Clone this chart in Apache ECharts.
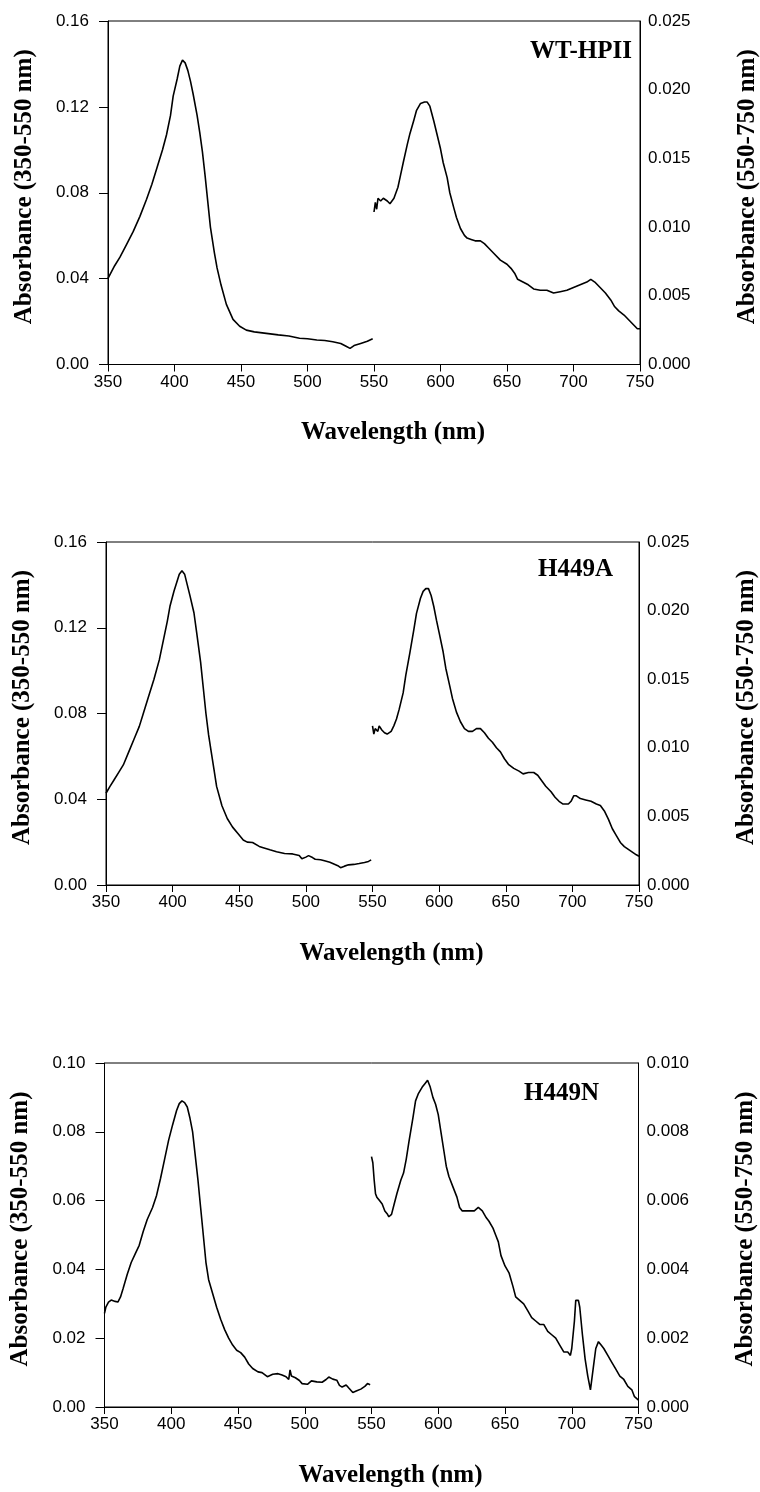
<!DOCTYPE html>
<html>
<head>
<meta charset="utf-8">
<script src="https://cdn.jsdelivr.net/npm/echarts@6/dist/echarts.min.js"></script>
<style>
html,body{margin:0;padding:0;background:#fff;overflow:hidden;}
#c{width:760px;height:1492px;}
</style>
</head>
<body>
<div id="c"></div>
<script>
// ---------- Panel 1: WT-HPII ----------
const wl1L = [350,355,359,364,369,374,379,383,387,391,394,397,399,402,404,406,408,410,412,414,417,419,421,423,425,427,430,432,435,439,444,449,454,460,469,478,486,494,500,507,513,519,525,529,532,535,540,545,549];
const ab1L = [0.0401,0.046,0.050,0.056,0.062,0.069,0.077,0.084,0.092,0.100,0.107,0.116,0.125,0.133,0.139,0.1418,0.1405,0.137,0.132,0.126,0.116,0.108,0.099,0.088,0.076,0.064,0.052,0.045,0.037,0.028,0.021,0.0178,0.0160,0.0152,0.0145,0.0138,0.0133,0.0122,0.0120,0.0114,0.0112,0.0106,0.0098,0.0085,0.0075,0.0088,0.0098,0.0108,0.0120];
const wl1R = [550,551,552,553,555,557,560,562,565,568,570,572,575,577,580,582,585,588,590,592,595,597,600,602,605,607,610,612,615,618,620,623,626,630,633,636,640,645,650,653,656,658,662,666,670,675,680,685,690,695,700,705,710,713,716,720,724,728,731,734,738,742,746,748,750];
const ab1R = [0.0111,0.0118,0.0113,0.0121,0.0119,0.0121,0.0119,0.0117,0.0121,0.0129,0.0138,0.0147,0.0160,0.0168,0.0178,0.0185,0.0190,0.0191,0.0191,0.0188,0.0177,0.0169,0.0157,0.0147,0.0136,0.0125,0.0114,0.0107,0.0099,0.0094,0.0092,0.0091,0.0090,0.0090,0.0088,0.0085,0.0081,0.0076,0.0073,0.0070,0.0066,0.0062,0.0060,0.0058,0.0055,0.0054,0.0054,0.0052,0.0053,0.0054,0.0056,0.0058,0.0060,0.0062,0.0060,0.0056,0.0052,0.0047,0.0042,0.0039,0.0036,0.0032,0.0028,0.0026,0.0026];

// ---------- Panel 2: H449A ----------
const wl2L = [350,353,356,360,363,367,371,375,378,382,386,390,393,396,398,401,403,405,407,409,411,413,416,418,421,423,425,427,429,431,433,437,441,445,449,453,456,460,465,468,473,478,484,490,495,497,500,502,505,507,511,514,518,521,524,526,529,532,536,540,544,547,549];
const ab2L = [0.0428,0.046,0.049,0.053,0.056,0.062,0.068,0.074,0.080,0.088,0.096,0.105,0.114,0.123,0.130,0.137,0.141,0.145,0.1466,0.145,0.140,0.135,0.127,0.118,0.104,0.092,0.080,0.070,0.062,0.054,0.046,0.037,0.031,0.027,0.024,0.021,0.020,0.0198,0.018,0.0174,0.0164,0.0155,0.0147,0.0145,0.0138,0.0122,0.0130,0.0137,0.0128,0.0120,0.0118,0.0113,0.0106,0.0098,0.0090,0.0081,0.0088,0.0094,0.0096,0.0100,0.0105,0.0110,0.0117];
const wl2R = [550,551,552,554,555,557,559,561,564,566,568,570,573,575,578,581,583,586,588,590,592,594,596,598,600,603,605,608,610,613,616,619,622,625,628,631,634,637,640,643,646,649,652,656,660,663,667,671,674,677,680,684,687,690,693,697,699,701,703,706,710,714,718,721,724,727,730,733,736,739,742,745,748,750];
const ab2R = [0.0116,0.0110,0.0114,0.0112,0.0116,0.0113,0.0111,0.0110,0.0112,0.0116,0.0121,0.0128,0.0140,0.0153,0.0169,0.0186,0.0198,0.0209,0.0214,0.0216,0.0216,0.0211,0.0203,0.0193,0.0184,0.0170,0.0158,0.0145,0.0136,0.0126,0.0119,0.0114,0.0112,0.0112,0.0114,0.0114,0.0111,0.0107,0.0104,0.0100,0.0097,0.0092,0.0088,0.0085,0.0083,0.0081,0.0082,0.0082,0.0080,0.0076,0.0072,0.0068,0.0064,0.0061,0.0059,0.0059,0.0061,0.0065,0.0065,0.0063,0.0062,0.0061,0.0059,0.0058,0.0054,0.0048,0.0041,0.0036,0.0031,0.0028,0.0026,0.0024,0.0022,0.0021];

// ---------- Panel 3: H449N ----------
const wl3L = [350,351,353,355,358,360,362,364,367,370,373,376,379,382,386,389,392,395,398,401,404,406,408,410,412,414,416,418,420,422,424,426,428,431,434,437,440,443,446,449,452,455,458,461,465,468,472,476,480,483,486,488,489,490,493,496,498,502,505,509,513,516,518,521,524,526,528,531,533,536,539,542,545,547,549];
const ab3L = [0.0272,0.0290,0.0305,0.0311,0.0307,0.0305,0.0320,0.0345,0.0385,0.0420,0.0445,0.0470,0.0510,0.0545,0.0580,0.0615,0.0665,0.0720,0.0775,0.0820,0.0862,0.0882,0.0890,0.0885,0.0872,0.0840,0.0800,0.0730,0.0660,0.0580,0.0500,0.0420,0.0370,0.0330,0.0290,0.0255,0.0225,0.0200,0.0180,0.0165,0.0158,0.0145,0.0125,0.0112,0.0102,0.0100,0.0088,0.0095,0.0097,0.0093,0.0088,0.0080,0.0108,0.0090,0.0085,0.0077,0.0068,0.0066,0.0076,0.0073,0.0072,0.0080,0.0087,0.0081,0.0078,0.0063,0.0058,0.0064,0.0055,0.0042,0.0047,0.0052,0.0060,0.0068,0.0065];
const wl3R = [550,551,552,553,554,556,558,560,562,563,565,567,569,572,574,576,578,581,583,585,588,590,592,594,596,598,600,602,604,606,608,611,614,616,618,621,624,627,630,633,636,638,641,643,645,647,650,653,656,658,661,664,667,670,673,676,679,682,685,688,691,694,697,699,700,702,703,705,706,708,710,712,714,716,718,720,722,724,727,730,733,736,739,742,745,747,750];
const ab3R = [0.00728,0.0071,0.0066,0.0062,0.0061,0.0060,0.0059,0.0057,0.0056,0.00553,0.0056,0.0059,0.0062,0.0066,0.0068,0.0072,0.0077,0.0084,0.0089,0.0091,0.0093,0.0094,0.0095,0.0093,0.0090,0.0088,0.0085,0.0080,0.0075,0.0070,0.0067,0.0064,0.0061,0.0058,0.0057,0.0057,0.0057,0.0057,0.0058,0.0057,0.0055,0.0054,0.0052,0.0050,0.0048,0.0044,0.0041,0.0039,0.0035,0.0032,0.0031,0.0030,0.0028,0.0026,0.0025,0.0024,0.0024,0.0022,0.0021,0.0020,0.0018,0.0016,0.0016,0.0015,0.0017,0.0025,0.0031,0.0031,0.0029,0.0021,0.0014,0.0009,0.0005,0.0011,0.0017,0.0019,0.0018,0.0017,0.0015,0.0013,0.0011,0.0009,0.0008,0.0006,0.0005,0.0003,0.0002];

// ---------- axis settings / labels ----------
const panelNames = ['WT-HPII','H449A','H449N'];
const xTitle = 'Wavelength (nm)';
const yLeftTitle = 'Absorbance (350-550 nm)';
const yRightTitle = 'Absorbance (550-750 nm)';
const leftMax = [0.16, 0.16, 0.10];
const leftStep = [0.04, 0.04, 0.02];
const rightMax = [0.025, 0.025, 0.010];
const rightStep = [0.005, 0.005, 0.002];

const panels = [
  {L:[wl1L,ab1L], R:[wl1R,ab1R]},
  {L:[wl2L,ab2L], R:[wl2R,ab2R]},
  {L:[wl3L,ab3L], R:[wl3R,ab3R]}
];

const SANS = "'Liberation Sans', Arial, Helvetica, sans-serif";
const SERIF = "'Liberation Serif', 'Times New Roman', serif";
const grids = [
  {left:108, top:21, width:532, height:343.5},
  {left:106, top:542, width:533, height:343},
  {left:104.5, top:1063, width:534, height:344}
];
const titlePos = [
  {right:128, top:39},
  {right:147, top:557},
  {right:161, top:1081}
];

const zip = (a,b) => a.map((v,i)=>[v,b[i]]);
const axisLine = {show:true, lineStyle:{color:'#000', width:1}};

const option = {
  animation:false,
  backgroundColor:'#fff',
  title: panelNames.map((t,i)=>({
    text:t, right:titlePos[i].right, top:titlePos[i].top, padding:0,
    textStyle:{fontFamily:SERIF, fontWeight:'bold', fontSize:25, color:'#000'}
  })),
  grid: grids.map(g=>Object.assign({show:true, borderColor:'#000', borderWidth:1, containLabel:false, outerBoundsMode:'none'}, g)),
  xAxis: grids.map((g,i)=>({
    type:'value', gridIndex:i, min:350, max:750, interval:50,
    axisLine:axisLine,
    axisTick:{show:true, inside:false, length:7, lineStyle:{color:'#000'}},
    axisLabel:{color:'#000', fontFamily:SANS, fontSize:17, margin:9},
    splitLine:{show:false},
    name:xTitle, nameLocation:'middle', nameGap:56,
    nameTextStyle:{fontFamily:SERIF, fontWeight:'bold', fontSize:25, color:'#000', padding:[0,0,0,38]}
  })),
  yAxis: [].concat(...grids.map((g,i)=>[
    {
      type:'value', gridIndex:i, position:'left', min:0, max:leftMax[i], interval:leftStep[i],
      axisLine:axisLine,
      axisTick:{show:true, inside:false, length:9, lineStyle:{color:'#000'}},
      axisLabel:{color:'#000', fontFamily:SANS, fontSize:17, margin:19, formatter:v=>v.toFixed(2)},
      splitLine:{show:false},
      name:yLeftTitle, nameLocation:'middle', nameGap:71, nameRotate:90,
      nameTextStyle:{fontFamily:SERIF, fontWeight:'bold', fontSize:25, color:'#000', padding:[0,0,0,12]}
    },
    {
      type:'value', gridIndex:i, position:'right', min:0, max:rightMax[i], interval:rightStep[i],
      axisLine:axisLine,
      axisTick:{show:false},
      axisLabel:{color:'#000', fontFamily:SANS, fontSize:17, margin:8, formatter:v=>v.toFixed(3)},
      splitLine:{show:false},
      name:yRightTitle, nameLocation:'middle', nameGap:95, nameRotate:90,
      nameTextStyle:{fontFamily:SERIF, fontWeight:'bold', fontSize:25, color:'#000', padding:[0,0,0,12]}
    }
  ])),
  series: [].concat(...panels.map((p,i)=>[
    {type:'line', xAxisIndex:i, yAxisIndex:2*i, data:zip(p.L[0],p.L[1]), showSymbol:false, symbol:'none',
     lineStyle:{color:'#000', width:1.6}, silent:true},
    {type:'line', xAxisIndex:i, yAxisIndex:2*i+1, data:zip(p.R[0],p.R[1]), showSymbol:false, symbol:'none',
     lineStyle:{color:'#000', width:1.6}, silent:true}
  ]))
};

const chart = echarts.init(document.getElementById('c'), null, {renderer:'canvas'});
chart.setOption(option);
</script>
</body>
</html>
